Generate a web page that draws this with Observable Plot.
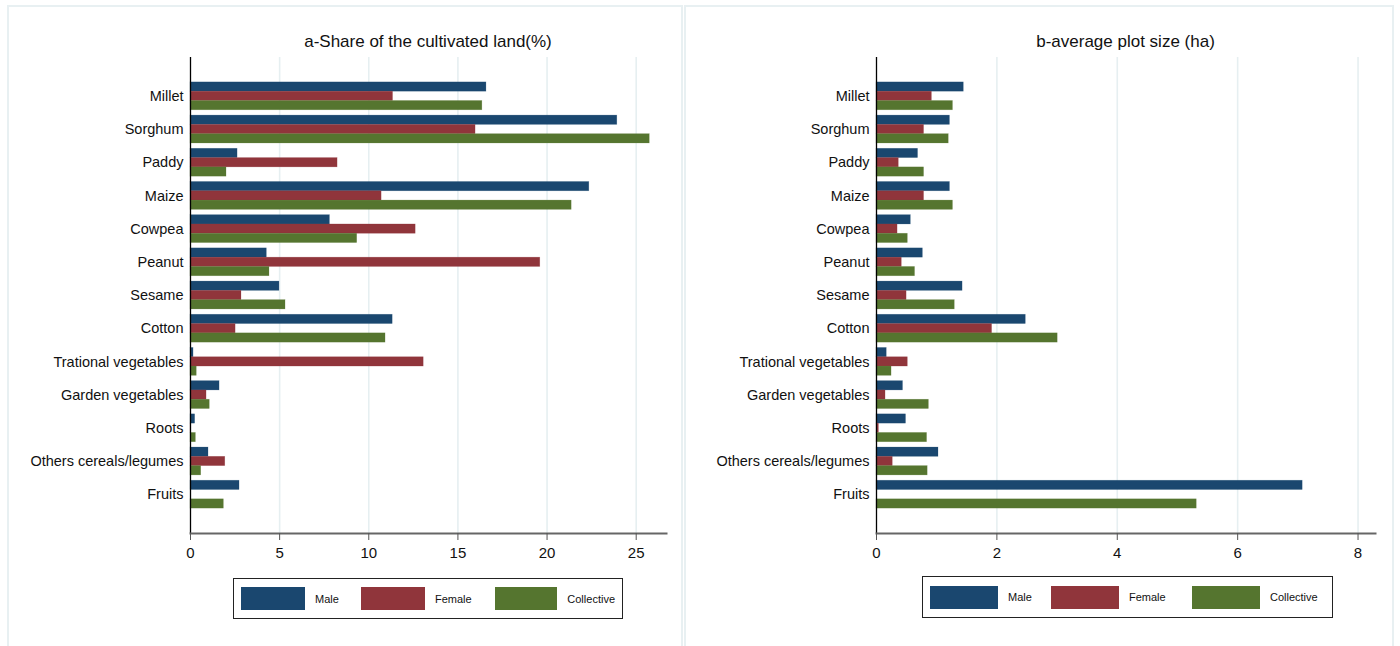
<!DOCTYPE html>
<html>
<head>
<meta charset="utf-8">
<script src="https://cdn.jsdelivr.net/npm/d3@7"></script>
<script src="https://cdn.jsdelivr.net/npm/@observablehq/plot@0.6"></script>
<style>
  html, body { margin: 0; padding: 0; background: #fff; width: 1400px; height: 646px; overflow: hidden; }
  body { position: relative; font-family: "Liberation Sans", Arial, sans-serif; color: #111; }
  .panel { position: absolute; border: 2px solid #e8f0f2; box-sizing: border-box; }
  .title { position: absolute; font-size: 17px; line-height: 22px; text-align: center; color: #111; }
  .chart { position: absolute; }
  .legend { position: absolute; border: 1.3px solid #222; box-sizing: border-box; display: flex; align-items: center; }
  .item { display: flex; align-items: center; font-size: 11px; font-family: "Liberation Sans Narrow", "Liberation Sans", Arial, sans-serif; color: #111; }
  .sw { height: 23px; }
</style>
</head>
<body>
<div class="panel" style="left:7px; top:5px; width:676px; height:660px;"></div>
<div class="panel" style="left:684px; top:5px; width:710px; height:660px;"></div>
<div class="title" style="left:190px; width:476px; top:31px;">a-Share of the cultivated land(%)</div>
<div class="title" style="left:876px; width:499px; top:31px;">b-average plot size (ha)</div>
<div id="chartA" class="chart" style="left:0px; top:50px;"></div>
<div id="chartB" class="chart" style="left:684px; top:50px;"></div>
<div id="legendA" class="legend" style="left:233px; top:578px; width:390px; height:41px; padding-left:7px;"></div>
<div id="legendB" class="legend" style="left:922px; top:576px; width:411px; height:42px; padding-left:7px;"></div>
<script>
// ---- data ----
const crops = ["Millet", "Sorghum", "Paddy", "Maize", "Cowpea", "Peanut", "Sesame", "Cotton",
  "Trational vegetables", "Garden vegetables", "Roots", "Others cereals/legumes", "Fruits"];
const series = ["Male", "Female", "Collective"];
const seriesColors = ["#1a476f", "#90353b", "#55752f"];

const shareMale       = [16.6, 23.94, 2.64, 22.37, 7.82, 4.28, 4.99, 11.34, 0.17, 1.63, 0.26, 1.01, 2.75];
const shareFemale     = [11.36, 15.99, 8.25, 10.72, 12.63, 19.62, 2.86, 2.53, 13.08, 0.90, 0.03, 1.95, 0];
const shareCollective = [16.37, 25.76, 2.02, 21.38, 9.35, 4.43, 5.33, 10.94, 0.35, 1.08, 0.30, 0.60, 1.87];

const sizeMale       = [1.45, 1.22, 0.69, 1.22, 0.57, 0.77, 1.43, 2.48, 0.17, 0.44, 0.49, 1.03, 7.08];
const sizeFemale     = [0.92, 0.79, 0.37, 0.79, 0.35, 0.42, 0.50, 1.92, 0.52, 0.15, 0.04, 0.27, 0];
const sizeCollective = [1.27, 1.20, 0.79, 1.27, 0.52, 0.64, 1.30, 3.01, 0.25, 0.87, 0.84, 0.85, 5.32];

const shareTicks = [0, 5, 10, 15, 20, 25];
const sizeTicks = [0, 2, 4, 6, 8];
const shareMax = 26.7;
const sizeMax = 8.29;

// ---- layout ----
const marginTop = 7, marginBottom = 30, plotHeight = 513;
const padInner = 0.16, padOuter = 0.75;
const frameH = plotHeight - marginTop - marginBottom;
const step = frameH / (crops.length - padInner + 2 * padOuter);
const third = step * (1 - padInner) / 3;

function rows(values) {
  return crops.map((c, i) => ({crop: c, value: values[i]}));
}

function makeChart({width, marginLeft, marginRight, max, ticks, values}) {
  const insets = [[0, 2 * third], [third, third], [2 * third, 0]];
  const bars = values.map((vals, k) => Plot.barX(rows(vals), {
    x: "value", y: "crop", fill: seriesColors[k],
    stroke: seriesColors[k], strokeOpacity: 0.35, strokeWidth: 0.6,
    insetTop: insets[k][0], insetBottom: insets[k][1]
  }));
  return Plot.plot({
    width, height: plotHeight, marginLeft, marginRight, marginTop, marginBottom,
    style: {fontFamily: "'Liberation Sans', Arial, sans-serif", background: "transparent", color: "#111", overflow: "visible"},
    x: {domain: [0, max], label: null},
    y: {domain: crops, paddingInner: padInner, paddingOuter: padOuter, round: false, label: null},
    marks: [
      Plot.gridX(ticks.filter(t => t > 0), {stroke: "#e6eff1", strokeOpacity: 1, strokeWidth: 1.6}),
      ...bars,
      Plot.ruleX([0], {stroke: "#000", strokeWidth: 1.3}),
      Plot.frame({anchor: "bottom", stroke: "#666", strokeWidth: 2}),
      Plot.axisX({ticks, tickSize: 7, tickPadding: 7, fontSize: 15, stroke: "#555", fill: "#111", label: null}),
      Plot.axisY({tickSize: 0, tickPadding: 7, fontSize: 14.5, fill: "#111", label: null})
    ]
  });
}

document.getElementById("chartA").appendChild(makeChart({
  width: 683, marginLeft: 190, marginRight: 17, max: shareMax, ticks: shareTicks,
  values: [shareMale, shareFemale, shareCollective]
}));
document.getElementById("chartB").appendChild(makeChart({
  width: 709, marginLeft: 192, marginRight: 18, max: sizeMax, ticks: sizeTicks,
  values: [sizeMale, sizeFemale, sizeCollective]
}));

function makeLegend(id, swW, itemWidths) {
  const el = document.getElementById(id);
  series.forEach((s, k) => {
    const it = document.createElement("div");
    it.className = "item";
    it.style.width = itemWidths[k] + "px";
    const sw = document.createElement("div");
    sw.className = "sw";
    sw.style.width = swW + "px";
    sw.style.background = seriesColors[k];
    sw.style.marginRight = "10px";
    const tx = document.createElement("span");
    tx.textContent = s;
    it.appendChild(sw); it.appendChild(tx);
    el.appendChild(it);
  });
}
makeLegend("legendA", 64, [120, 134, 120]);
makeLegend("legendB", 68, [121, 141, 130]);
</script>
</body>
</html>
